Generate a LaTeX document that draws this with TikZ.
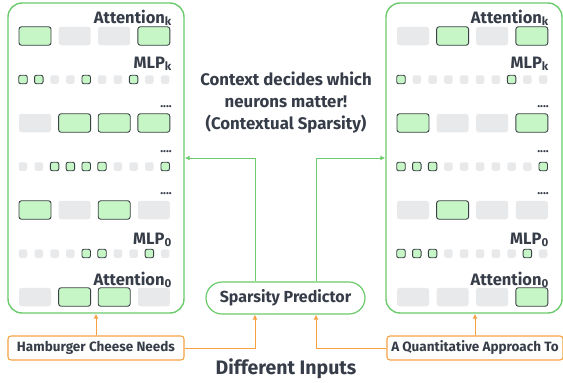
\documentclass[tikz,border=0pt]{standalone}
\usepackage{fontspec}
\setmainfont{Fira Sans}
\usetikzlibrary{arrows.meta, positioning}
\definecolor{inkgray}{HTML}{363D48}
\definecolor{frameg}{HTML}{6CCB6C}
\definecolor{cellg}{HTML}{C6F6C6}
\definecolor{cellgray}{HTML}{E8E9EB}
\definecolor{celledge}{HTML}{3B4046}
\definecolor{inorange}{HTML}{F7A044}
\newcommand{\skipdots}{{\fontsize{12}{12}\selectfont....}}

\begin{document}
\begin{tikzpicture}[x=1pt, y=-1pt, text=inkgray, font=\bfseries,
    panel/.style={draw=frameg, line width=1.4pt, rounded corners=14pt, minimum width=176pt, minimum height=310pt},
    big0/.style={fill=cellgray, rounded corners=2.5pt, minimum width=32pt, minimum height=18.5pt, inner sep=0pt},
    big1/.style={big0, fill=cellg, draw=celledge, line width=0.9pt},
    dot0/.style={fill=cellgray, rounded corners=2pt, minimum size=8.5pt, inner sep=0pt},
    dot1/.style={dot0, fill=cellg, draw=celledge, line width=0.9pt},
    layer/.style={anchor=base east, inner sep=0pt, font=\bfseries\fontsize{16.5}{16.5}\selectfont},
    inbox/.style={draw=inorange, line width=1.1pt, rounded corners=3pt, minimum width=176pt, minimum height=24pt, font=\bfseries\fontsize{13.5}{13.5}\selectfont},
    garrow/.style={draw=frameg, line width=1pt, -{Latex[length=5pt,width=5pt]}},
    oarrow/.style={draw=inorange, line width=1pt, -{Latex[length=5pt,width=5pt]}}]
    \useasboundingbox (0,0) rectangle (563,383);

    \node[panel] (panL) at (96,158) {};
    \node[panel] (panR) at (474,158) {};

    % left model
    \foreach \j/\cells in {0/{1,0,0,1}, 2/{0,1,1,1}, 4/{1,0,1,0}, 6/{0,1,1,0}}
        \foreach \s [count=\i from 0] in \cells
            \node[big\s] (L-\j-\i) at (8+27+39.6*\i, 36+43.5*\j) {};
    \foreach \j/\cells in {1/{1,1,0,0,1,0,0,1,0,0}, 3/{0,0,1,1,1,1,0,0,0,1}, 5/{0,0,0,0,1,1,0,0,1,0}}
        \foreach \s [count=\i from 0] in \cells
            \node[dot\s] (L-\j-\i) at (8+15+15.8*\i, 36+43.5*\j) {};
    \foreach \lab/\ly [count=\k] in {Attention\textsubscript{k}/23, MLP\textsubscript{k}/68, \skipdots/107, \skipdots/152, \skipdots/194, MLP\textsubscript{0}/244, Attention\textsubscript{0}/285}
        \node[layer] (L-lab\k) at (172,\ly) {\lab};

    % right model
    \foreach \j/\cells in {0/{0,1,0,1}, 2/{1,0,0,1}, 4/{0,1,0,0}, 6/{0,0,0,1}}
        \foreach \s [count=\i from 0] in \cells
            \node[big\s] (R-\j-\i) at (386+27+39.6*\i, 36+43.5*\j) {};
    \foreach \j/\cells in {1/{1,0,0,0,0,0,0,1,0,0}, 3/{1,1,1,0,0,0,0,0,0,1}, 5/{1,1,1,0,0,0,0,0,1,0}}
        \foreach \s [count=\i from 0] in \cells
            \node[dot\s] (R-\j-\i) at (386+15+15.8*\i, 36+43.5*\j) {};
    \foreach \lab/\ly [count=\k] in {Attention\textsubscript{k}/23, MLP\textsubscript{k}/68, \skipdots/107, \skipdots/152, \skipdots/194, MLP\textsubscript{0}/244, Attention\textsubscript{0}/285}
        \node[layer] (R-lab\k) at (549,\ly) {\lab};

    \node[align=center, font=\bfseries\fontsize{16.8}{22}\selectfont] (ctx) at (286,103) {Context decides which\\neurons matter!\\(Contextual Sparsity)};
    \node[draw=frameg, line width=1.2pt, rounded corners=16pt, minimum width=159pt, minimum height=32pt, font=\bfseries\fontsize{16}{16}\selectfont] (pred) at (285.5,298) {Sparsity Predictor};

    \node[inbox] (inL) at (96,348) {Hamburger Cheese Needs};
    \node[inbox] (inR) at (475,348) {A Quantitative Approach To};
    \node[font=\bfseries\fontsize{19.5}{19.5}\selectfont] (diff) at (286,369) {Different Inputs};

    \draw[oarrow] (inL.north) -- (inL.north |- panL.south);
    \draw[oarrow] (inR.north) -- (inR.north |- panR.south);
    \draw[oarrow] (inL.east) -| ([xshift=-30.5pt]pred.south);
    \draw[oarrow] (inR.west) -| ([xshift=30.5pt]pred.south);
    \draw[garrow] ([xshift=-30.5pt]pred.north) |- (panL.east);
    \draw[garrow] ([xshift=30.5pt]pred.north) |- (panR.west);
\end{tikzpicture}
\end{document}
